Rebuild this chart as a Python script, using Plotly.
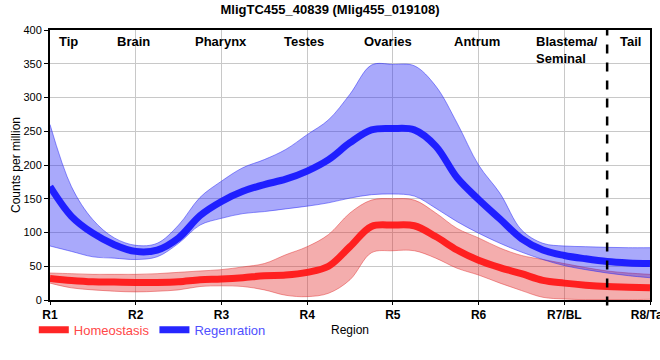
import plotly.graph_objects as go

# Region positions (index along body axis) and tick labels
x_pos = [0, 0.25, 0.5, 0.75, 1, 1.25, 1.5, 1.75, 2, 2.25, 2.5, 2.75, 3, 3.25, 3.5,
         3.75, 4, 4.25, 4.5, 4.75, 5, 5.25, 5.5, 5.75, 6, 6.25, 6.5, 6.75, 7]
tick_vals = [0, 1, 2, 3, 4, 5, 6, 7]
tick_text = ["R1", "R2", "R3", "R4", "R5", "R6", "R7/BL", "R8/Tail"]

region_names = ["Tip", "Brain", "Pharynx", "Testes", "Ovaries", "Antrum", "Blastema/<br>Seminal", "Tail"]
region_x = [0.22, 0.97, 1.99, 2.96, 3.94, 4.98, 5.65, 6.77]

regen_mean = [168, 124, 99, 82, 72, 74, 92, 125, 146, 161, 171, 179, 191, 208, 233,
              252, 254, 252, 228, 181, 149, 120, 91, 74, 66, 61, 57, 55, 54]
regen_upper = [260, 168, 119, 92, 81, 84, 111, 152, 176, 196, 208, 223, 245, 267, 305,
               348, 349, 347, 317, 262, 200, 158, 104, 84, 80, 79, 78, 77.5, 77.5]
regen_lower = [80, 72, 64, 62, 60, 64, 84, 111, 121, 128, 131, 135, 139, 144, 151,
               156, 157, 154, 136, 116, 99, 84, 71, 60, 51, 45, 40, 36, 33]

homeo_mean = [32, 29, 27, 26.5, 26, 26, 27, 30, 31, 33, 36, 37, 41, 50, 79,
              109, 111, 110, 94, 74, 59, 48, 39, 29, 25, 22, 20, 19, 18]
homeo_upper = [40, 39, 38, 38, 38, 39, 41, 43, 45, 49, 54, 67, 79, 97, 129,
               148, 150, 148, 129, 106, 92, 77, 66, 60, 54, 48, 43, 40, 38]
homeo_lower = [25, 18, 15, 13, 12, 13, 15, 20, 21, 20, 15, 7, 5, 10, 30,
               70, 73, 73, 62, 47, 37, 25, 14, 4, 1.5, 0.5, 0.5, 0.5, 1]

divider_x = 6.5

FONT = "Arial, Liberation Sans, sans-serif"

fig = go.Figure()

def band(lower, upper, fill, edge):
    fig.add_trace(go.Scatter(x=x_pos, y=upper, mode="lines", line=dict(color=edge, width=1, shape="spline"),
                             showlegend=False, hoverinfo="skip"))
    fig.add_trace(go.Scatter(x=x_pos, y=lower, mode="lines", line=dict(color=edge, width=1, shape="spline"),
                             fill="tonexty", fillcolor=fill, showlegend=False, hoverinfo="skip"))

band(homeo_lower, homeo_upper, "rgba(225,40,40,0.38)", "rgba(225,40,40,0.45)")
band(regen_lower, regen_upper, "rgba(40,40,245,0.40)", "rgba(40,40,245,0.5)")

fig.add_trace(go.Scatter(x=x_pos, y=homeo_mean, mode="lines",
                         line=dict(color="rgba(255,20,20,0.92)", width=7, shape="spline"),
                         name="<span style='color:#ff4848'>Homeostasis</span>"))
fig.add_trace(go.Scatter(x=x_pos, y=regen_mean, mode="lines",
                         line=dict(color="rgba(20,20,255,0.92)", width=7, shape="spline"),
                         name="<span style='color:#5050ff'>Regenration</span>"))

for name, xr in zip(region_names, region_x):
    left = name.startswith("Blastema")
    fig.add_annotation(x=xr, y=1, xref="x", yref="paper", yanchor="top", yshift=-2,
                       xanchor="left" if left else "center", align="left",
                       text="<b>" + name + "</b>", showarrow=False,
                       font=dict(family=FONT, size=13, color="black"))

fig.add_shape(type="line", x0=divider_x, x1=divider_x, xref="x", yref="paper", y0=-0.02, y1=1,
              line=dict(color="black", width=2.5, dash="dash"))

fig.update_layout(
    width=660, height=360,
    margin=dict(l=50, r=10, t=30, b=60, autoexpand=False),
    paper_bgcolor="white", plot_bgcolor="white",
    title=dict(text="<b>MligTC455_40839 (Mlig455_019108)</b>", x=0.5, xanchor="center",
               y=0.975, yanchor="middle", font=dict(family=FONT, size=13, color="black"),
               automargin=False),
    font=dict(family=FONT, size=11, color="black"),
    showlegend=True,
    legend=dict(orientation="h", x=-0.027, xanchor="left", y=-0.11, yanchor="middle",
                font=dict(family=FONT, size=13), bgcolor="rgba(0,0,0,0)",
                itemwidth=30, tracegroupgap=0, traceorder="normal"),
    xaxis=dict(range=[0, 7], tickvals=tick_vals,
               ticktext=["<b>" + t + "</b>" for t in tick_text],
               tickfont=dict(family=FONT, size=12, color="black"),
               ticklabeloverflow="allow", automargin=False,
               showgrid=True, gridcolor="#c8c8c8", gridwidth=1,
               showline=True, linecolor="black", linewidth=2, mirror=True,
               ticks="outside", ticklen=3, tickcolor="black", zeroline=False,
               title=dict(text="Region", font=dict(family=FONT, size=12, color="black"), standoff=4)),
    yaxis=dict(range=[0, 400], dtick=50, tickfont=dict(family=FONT, size=11, color="black"),
               automargin=False,
               showgrid=True, gridcolor="#c8c8c8", gridwidth=1,
               showline=True, linecolor="black", linewidth=2, mirror=True,
               ticks="outside", ticklen=4, tickcolor="black", zeroline=False,
               title=dict(text="Counts per million", font=dict(family=FONT, size=12, color="black"), standoff=0)),
)

fig.write_html("out.html", config={"displayModeBar": False},
               post_script="document.body.style.margin='0';document.body.style.padding='0';")
